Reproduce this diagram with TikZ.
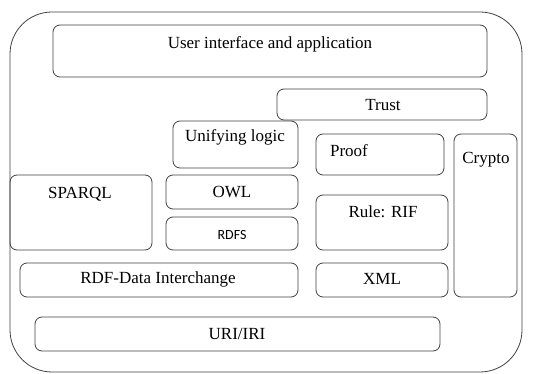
\documentclass[tikz,border=0pt]{standalone}
\usepackage{fontspec}
\setmainfont{Liberation Serif}
\newfontfamily\timesfont{Liberation Serif}
\newfontfamily\rdfsfont{Carlito}
\begin{document}
\begin{tikzpicture}[x=1pt,y=-1pt,
  layer/.style={draw=black!75,line width=0.8pt,rounded corners=7pt},
  outer/.style={draw=black!75,line width=0.8pt,rounded corners=42pt},
  lbl/.style={font=\timesfont\fontsize{17}{19}\selectfont,inner sep=0pt}]
\useasboundingbox (0,0) rectangle (536,374);
\draw[outer] (10,12) rectangle (522,372);
% boxes
\draw[layer] (53,25) rectangle (487,77);
\node[lbl] (ui) at (270,44) {User interface and application};
\draw[layer] (277,89) rectangle (487,120);
\node[lbl] (trust) at (383,105) {Trust};
\draw[layer] (173,121) rectangle (298,168);
\node[lbl] (logic) at (235,137) {Unifying logic};
\draw[layer] (316,134) rectangle (444,175);
\node[lbl] (proof) at (349,151) {Proof};
\draw[layer] (454,134) rectangle (517,297);
\node[lbl] (crypto) at (486,160) {Crypto};
\draw[layer] (10,175) rectangle (152,250);
\node[lbl] (sparql) at (80,194) {SPARQL};
\draw[layer] (166,175) rectangle (298,209);
\node[lbl] (owl) at (232,192) {OWL};
\draw[layer] (166,217) rectangle (298,250);
\node[font=\rdfsfont\fontsize{14}{16}\selectfont,inner sep=0pt] (rdfs) at (232,235) {RDFS};
\draw[layer] (316,195) rectangle (448,250);
\node[lbl] (rif) at (383,212) {Rule: RIF};
\draw[layer] (20,263) rectangle (298,297);
\node[lbl] (rdf) at (158,279) {RDF-Data Interchange};
\draw[layer] (316,263) rectangle (448,297);
\node[lbl] (xml) at (382,279) {XML};
\draw[layer] (35,317) rectangle (440,351);
\node[lbl] (uri) at (237,334) {URI/IRI};
\end{tikzpicture}
\end{document}
